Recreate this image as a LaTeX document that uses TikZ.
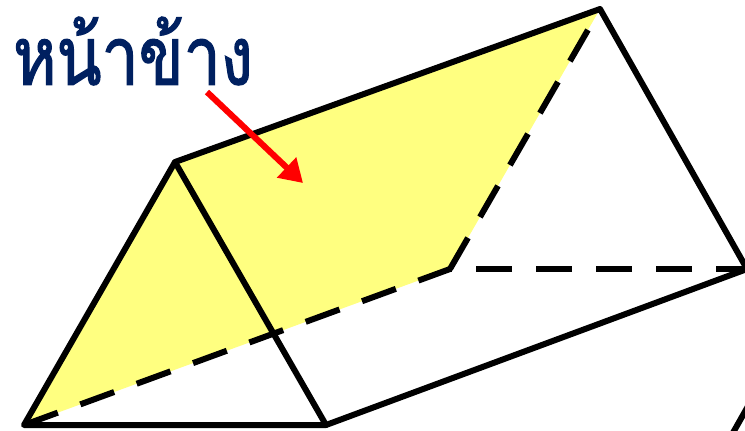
\documentclass[tikz,border=0pt]{standalone}
\usepackage{fontspec}
\usetikzlibrary{arrows.meta}
\newfontfamily\thaifont[Script=Thai,FakeBold=1.5,FakeStretch=0.81]{Loma}
\definecolor{fillyellow}{HTML}{FFFF80}
\definecolor{thainavy}{HTML}{002060}
\tikzset{px/.style={x=0.75pt,y=-0.75pt},edge/.style={line width=4.5pt,line cap=round,line join=round,black},hidden/.style={line width=4.5pt,black,dash pattern=on 27pt off 18pt}}
\begin{document}
\begin{tikzpicture}[px]
\useasboundingbox (0,0) rectangle (745,430);
\clip (0,0) rectangle (745,430);
\coordinate (A) at (24,425);
\coordinate (B) at (175,162);
\coordinate (C) at (326,425);
\coordinate (D) at (450,269);
\coordinate (E) at (600,9);
\coordinate (F) at (747,269);
\coordinate (G) at (760,385);
\coordinate (H) at (730,438);
\coordinate (R1) at (207,92);
\coordinate (R2) at (303,183);
\fill[fillyellow] (A) -- (B) -- (E) -- (D) -- cycle;
\draw[hidden] (A) -- (D);
\draw[hidden] (D) -- (E);
\draw[hidden,dash phase=25.5pt] (D) -- (F);
\draw[edge] (A) -- (B) -- (C) -- cycle;
\draw[edge] (B) -- (E) -- (F) -- (C);
\draw[edge] (G) -- (H);
\draw[red,line width=4.6pt,-{Triangle[length=17pt,width=20pt]}] (R1) -- (R2);
\node[text=thainavy,font=\thaifont\fontsize{61pt}{61pt}\selectfont,inner sep=0pt] (L) at (133,51) {หน้าข้าง};
\end{tikzpicture}
\end{document}
